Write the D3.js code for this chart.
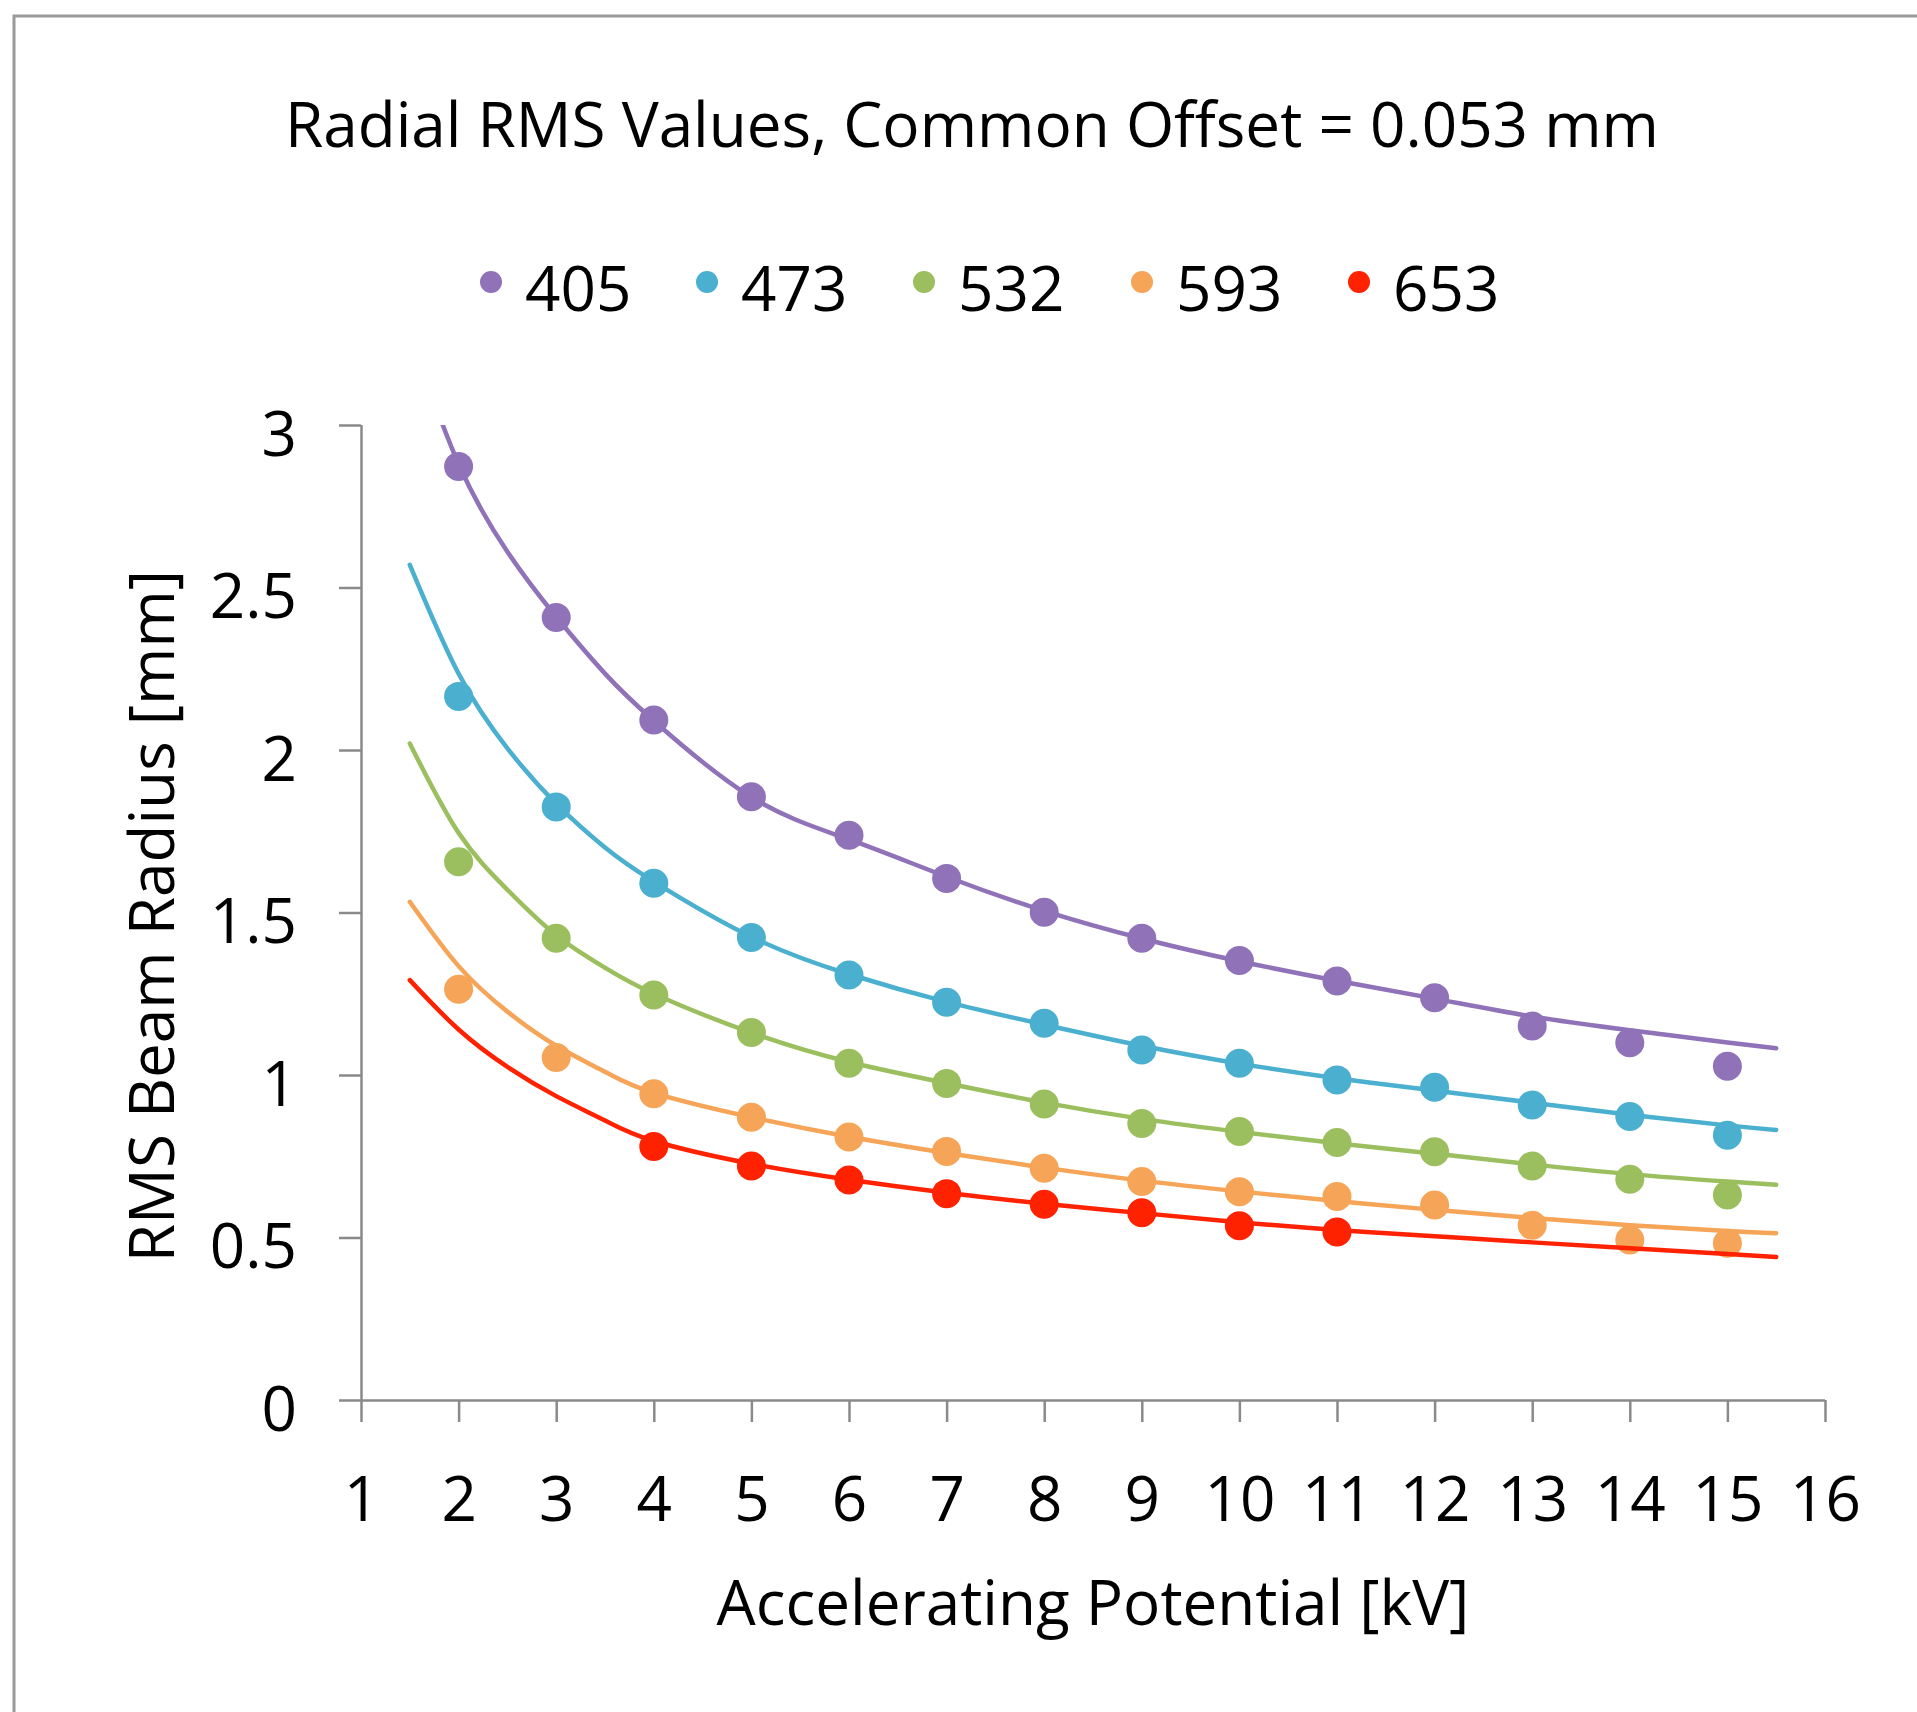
<!DOCTYPE html>
<html>
<head>
<meta charset="utf-8">
<script src="https://cdn.jsdelivr.net/npm/d3@7"></script>
<style>
  html, body { margin: 0; padding: 0; background: #fff; }
  svg { display: block; }
  text { font-family: "Open Sans", "DejaVu Sans", sans-serif; fill: #000; }
</style>
</head>
<body>
<svg id="chart" width="1917" height="1712"></svg>
<script>
// ---------- data ----------
const chartTitle = "Radial RMS Values, Common Offset = 0.053 mm";
const xTitle = "Accelerating Potential [kV]";
const yTitle = "RMS Beam Radius [mm]";
const seriesNames = ["405", "473", "532", "593", "653"];
const seriesColors = ["#8f72b8", "#4bb0cf", "#9bbf5e", "#f6a457", "#ff2200"];
const xTicks = [1, 2, 3, 4, 5, 6, 7, 8, 9, 10, 11, 12, 13, 14, 15, 16];
const yTicks = [0, 0.5, 1, 1.5, 2, 2.5, 3];

// measured points
const ptX = [2, 3, 4, 5, 6, 7, 8, 9, 10, 11, 12, 13, 14, 15];
const pts405 = [2.872, 2.408, 2.092, 1.856, 1.738, 1.605, 1.501, 1.421, 1.352, 1.289, 1.238, 1.151, 1.099, 1.027];
const pts473 = [2.165, 1.825, 1.590, 1.423, 1.308, 1.224, 1.159, 1.077, 1.036, 0.985, 0.962, 0.908, 0.872, 0.815];
const pts532 = [1.656, 1.421, 1.246, 1.131, 1.036, 0.974, 0.911, 0.851, 0.826, 0.792, 0.764, 0.720, 0.679, 0.631];
const pts593 = [1.264, 1.054, 0.942, 0.870, 0.809, 0.765, 0.713, 0.672, 0.641, 0.626, 0.600, 0.538, 0.492, 0.482];
const ptX653 = [4, 5, 6, 7, 8, 9, 10, 11];
const pts653 = [0.780, 0.720, 0.677, 0.635, 0.602, 0.576, 0.536, 0.517];

// fitted curves
const fitX = [1.5, 2, 2.5, 3, 3.5, 4, 5, 6, 7, 8, 9, 10, 11, 12, 13, 14, 15, 15.5];
const fit405 = [3.28, 2.88, 2.61, 2.41, 2.235, 2.09, 1.855, 1.725, 1.61, 1.505, 1.42, 1.35, 1.29, 1.235, 1.18, 1.138, 1.10, 1.082];
const fit473 = [2.57, 2.235, 2.005, 1.835, 1.70, 1.595, 1.425, 1.31, 1.225, 1.155, 1.09, 1.035, 0.99, 0.952, 0.915, 0.878, 0.845, 0.831];
const fit532 = [2.02, 1.745, 1.57, 1.43, 1.33, 1.25, 1.13, 1.04, 0.975, 0.915, 0.865, 0.825, 0.79, 0.758, 0.725, 0.695, 0.672, 0.662];
const fit593 = [1.533, 1.335, 1.195, 1.09, 1.01, 0.945, 0.87, 0.81, 0.76, 0.715, 0.675, 0.642, 0.612, 0.585, 0.56, 0.538, 0.52, 0.513];
const fit653 = [1.292, 1.14, 1.025, 0.935, 0.86, 0.797, 0.727, 0.678, 0.638, 0.604, 0.575, 0.547, 0.523, 0.504, 0.485, 0.467, 0.449, 0.44];

const series = [
  { name: seriesNames[0], color: seriesColors[0], px: ptX, py: pts405, fy: fit405 },
  { name: seriesNames[1], color: seriesColors[1], px: ptX, py: pts473, fy: fit473 },
  { name: seriesNames[2], color: seriesColors[2], px: ptX, py: pts532, fy: fit532 },
  { name: seriesNames[3], color: seriesColors[3], px: ptX, py: pts593, fy: fit593 },
  { name: seriesNames[4], color: seriesColors[4], px: ptX653, py: pts653, fy: fit653 }
];

// ---------- layout ----------
const svg = d3.select("#chart");
const FS = 62;
const axisColor = "#8a8a8a";
const plot = { left: 361, right: 1825, top: 425, bottom: 1400 };

const x = d3.scaleLinear().domain([1, 16]).range([plot.left, plot.right]);
const y = d3.scaleLinear().domain([0, 3]).range([plot.bottom, plot.top]);

// outer frame
svg.append("rect")
  .attr("x", 14).attr("y", 16).attr("width", 2000).attr("height", 2000)
  .attr("fill", "none").attr("stroke", "#9a9a9a").attr("stroke-width", 3);

// title
svg.append("text")
  .attr("x", 972).attr("y", 147)
  .attr("text-anchor", "middle")
  .style("font-size", FS + "px")
  .text(chartTitle);

// legend
const legendDotX = [491, 707, 924, 1142, 1359];
const leg = svg.append("g");
series.forEach((s, i) => {
  leg.append("circle")
    .attr("cx", legendDotX[i]).attr("cy", 282).attr("r", 11)
    .attr("fill", s.color);
  leg.append("text")
    .attr("x", legendDotX[i] + 34).attr("y", 311)
    .style("font-size", FS + "px")
    .text(s.name);
});

// axes
const xAxis = d3.axisBottom(x).tickValues(xTicks).tickSize(22).tickPadding(0).tickFormat(d3.format("d"));
const yAxis = d3.axisLeft(y).tickValues(yTicks).tickSize(22).tickPadding(0).tickFormat(d => d3.format("")(d));

const gy = svg.append("g").attr("transform", `translate(${plot.left},0)`).call(yAxis);
const gx = svg.append("g").attr("transform", `translate(0,${plot.bottom})`).call(xAxis);

[gx, gy].forEach(g => {
  g.select(".domain").attr("stroke", axisColor).attr("stroke-width", 2.5);
  g.selectAll(".tick line").attr("stroke", axisColor).attr("stroke-width", 2.5);
  g.selectAll(".tick text").attr("fill", "#000").style("font-size", FS + "px")
    .style("font-family", '"Open Sans", sans-serif');
});
gx.select(".domain").attr("d", `M${plot.left},0.5H${plot.right}`);
gy.select(".domain").attr("d", `M0.5,${plot.top}V${plot.bottom}`);

gx.selectAll(".tick text").attr("y", 121).attr("dy", 0);
gy.selectAll(".tick text").attr("x", -64).attr("dy", 0).attr("y", 30);

// axis titles
svg.append("text")
  .attr("x", (plot.left + plot.right) / 2).attr("y", 1625)
  .attr("text-anchor", "middle")
  .style("font-size", FS + "px")
  .text(xTitle);

svg.append("text")
  .attr("transform", `translate(174,916) rotate(-90)`)
  .attr("text-anchor", "middle")
  .style("font-size", FS + "px")
  .text(yTitle);

// clip
svg.append("clipPath").attr("id", "plotclip")
  .append("rect").attr("x", plot.left - 30).attr("y", plot.top)
  .attr("width", plot.right - plot.left + 60).attr("height", plot.bottom - plot.top);

const line = d3.line().x(d => x(d[0])).y(d => y(d[1])).curve(d3.curveNatural);
const gPlot = svg.append("g");

series.forEach(s => {
  const fitPts = fitX.map((xv, i) => [xv, s.fy[i]]);
  gPlot.append("path")
    .attr("d", line(fitPts))
    .attr("fill", "none")
    .attr("stroke", s.color)
    .attr("stroke-width", 4.5)
    .attr("stroke-linecap", "round")
    .attr("clip-path", "url(#plotclip)");
  gPlot.selectAll(null)
    .data(s.px.map((xv, i) => [xv, s.py[i]]))
    .enter().append("circle")
    .attr("cx", d => x(d[0])).attr("cy", d => y(d[1]))
    .attr("r", 14.5)
    .attr("fill", s.color);
});
</script>
</body>
</html>
